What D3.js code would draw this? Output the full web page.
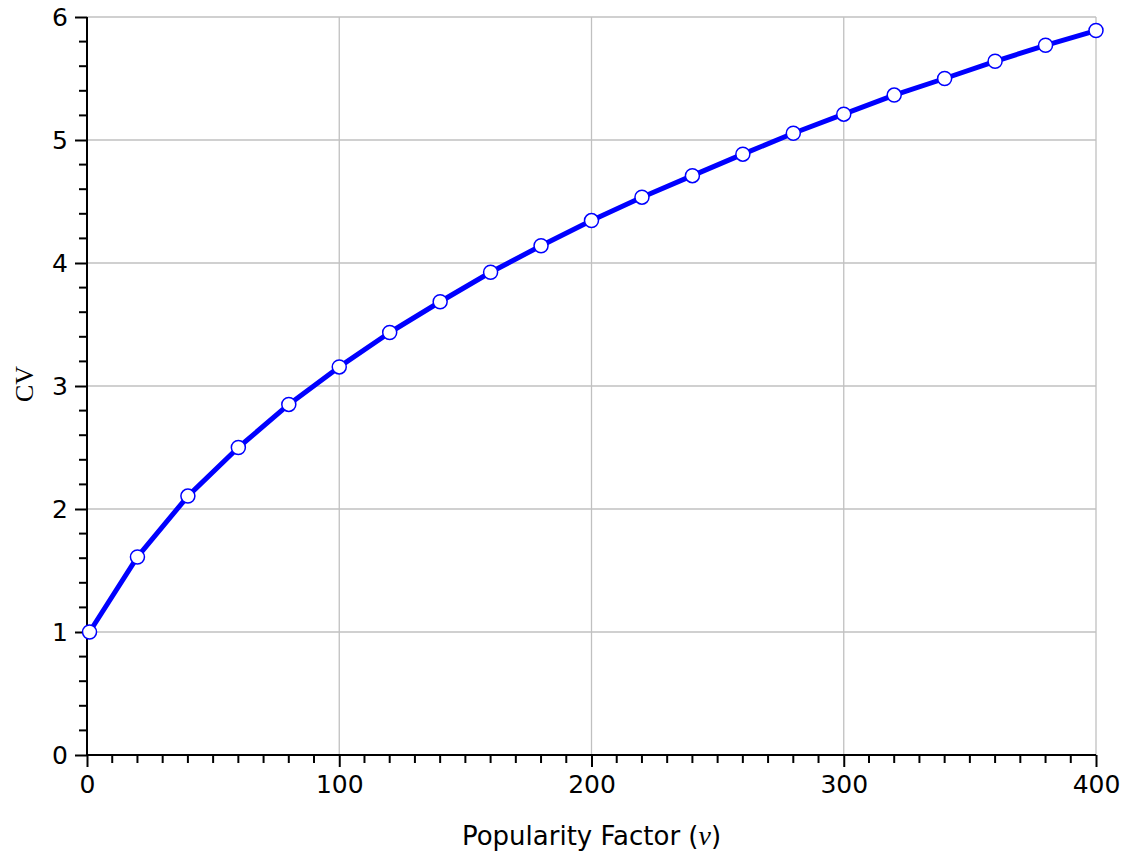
<!DOCTYPE html>
<html><head><meta charset="utf-8">
<script src="https://cdn.jsdelivr.net/npm/d3@7"></script>
<style>body{margin:0;background:#fff}</style>
</head><body>
<svg id="c" width="1134" height="856"></svg>
<script>
const popularity = [1,20,40,60,80,100,120,140,160,180,200,220,240,260,280,300,320,340,360,380,400];
const cv = [1.00,1.61,2.105,2.50,2.85,3.155,3.435,3.685,3.925,4.14,4.345,4.535,4.71,4.885,5.055,5.21,5.365,5.50,5.64,5.77,5.89];
const xTicks = [0,100,200,300,400];
const yTicks = [0,1,2,3,4,5,6];

const svg = d3.select("#c");
const L=87, R=1096, T=17, B=755;
const x = d3.scaleLinear().domain([0,400]).range([L,R]);
const y = d3.scaleLinear().domain([0,6]).range([B,T]);

// grid
const g = svg.append("g");
g.selectAll(".gx").data(xTicks.slice(1)).enter().append("line")
 .attr("x1",d=>x(d)).attr("x2",d=>x(d)).attr("y1",B).attr("y2",T)
 .attr("stroke","#c0c0c0").attr("stroke-width",1.3);
g.selectAll(".gy").data(yTicks.slice(1)).enter().append("line")
 .attr("x1",L).attr("x2",R).attr("y1",d=>y(d)).attr("y2",d=>y(d))
 .attr("stroke","#c0c0c0").attr("stroke-width",1.3);

// minor ticks
const xMinor = d3.range(0,401,10).filter(d=>d%100!==0);
const yMinor = d3.range(0,31).map(d=>d/5).filter(d=>Math.abs(d-Math.round(d))>1e-6);
svg.append("g").selectAll("line").data(xMinor).enter().append("line")
 .attr("x1",d=>x(d)).attr("x2",d=>x(d)).attr("y1",B).attr("y2",B+8)
 .attr("stroke","#000").attr("stroke-width",2);
svg.append("g").selectAll("line").data(yMinor).enter().append("line")
 .attr("y1",d=>y(d)).attr("y2",d=>y(d)).attr("x1",L).attr("x2",L-8)
 .attr("stroke","#000").attr("stroke-width",2);

// axes
const xAxis = d3.axisBottom(x).tickValues(xTicks).tickSize(12).tickPadding(8).tickFormat(d3.format("d"));
const yAxis = d3.axisLeft(y).tickValues(yTicks).tickSize(12).tickPadding(7).tickFormat(d3.format("d"));
const ax = svg.append("g").attr("transform",`translate(0,${B})`).call(xAxis);
const ay = svg.append("g").attr("transform",`translate(${L},0)`).call(yAxis);
[ax,ay].forEach(a=>{
  a.select(".domain").attr("stroke","#000").attr("stroke-width",2);
  a.selectAll(".tick line").attr("stroke","#000").attr("stroke-width",2);
  a.selectAll(".tick text").attr("fill","#000").style("font-family","DejaVu Sans").style("font-size","25px");
});
ay.select(".domain").attr("d",`M0,${B}V${T}`);
ax.select(".domain").attr("d",`M${L-1},0H${R}`);

// line
const line = d3.line().x((d,i)=>x(popularity[i])).y(d=>y(d));
svg.append("path").datum(cv).attr("d",line).attr("fill","none")
 .attr("stroke","#0000ff").attr("stroke-width",5).attr("stroke-linejoin","round");
svg.append("g").selectAll("circle").data(cv).enter().append("circle")
 .attr("cx",(d,i)=>x(popularity[i])).attr("cy",d=>y(d)).attr("r",7)
 .attr("fill","#fff").attr("stroke","#0000ff").attr("stroke-width",1.5);

// labels
const xl = svg.append("text").attr("x",(L+R)/2).attr("y",845).attr("text-anchor","middle")
 .style("font-family","DejaVu Sans").style("font-size","26px").attr("fill","#000");
xl.append("tspan").text("Popularity Factor (");
xl.append("tspan").text("v").style("font-family","Liberation Serif").style("font-style","italic").style("font-size","28px");
xl.append("tspan").text(")");
svg.append("text").attr("transform","translate(33,384) rotate(-90)").attr("text-anchor","middle")
 .style("font-family","Liberation Serif").style("font-size","26px").attr("fill","#000").text("CV");
</script>
</body></html>
